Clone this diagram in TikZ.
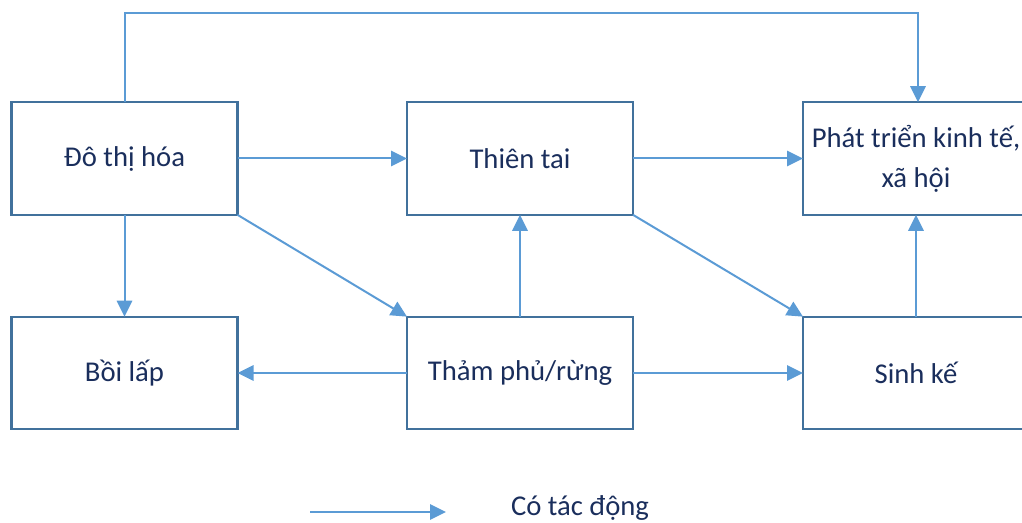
\documentclass[tikz,border=0pt]{standalone}
\usepackage{fontspec}
\setmainfont{Carlito}
\usetikzlibrary{arrows.meta}
\definecolor{boxline}{HTML}{41719C}
\definecolor{arrowblue}{HTML}{5B9BD5}
\definecolor{textnavy}{HTML}{1A2E5C}
\begin{document}
\begin{tikzpicture}[x=0.75pt,y=-0.75pt,
  box/.style={draw=boxline,line width=1.6pt,fill=white,inner sep=0pt,outer sep=0pt,
    minimum width=169.5pt,minimum height=84.5pt,align=center,text=textnavy,
    font=\fontsize{21.5}{30}\selectfont},
  link/.style={draw=arrowblue,line width=1.5pt,-{Triangle[length=12pt,width=11.5pt]}},
  label/.style={text=textnavy,font=\fontsize{21.5}{30}\selectfont,inner sep=0pt}]
\useasboundingbox (0,0) rectangle (1022,523);
\clip (0,0) rectangle (1022,523);

% boxes
\node[box] (urban)  at (124.5,158.5) {Đô thị hóa};
\node[box] (hazard) at (520,158.5) {Thiên tai};
\node[box] (devel)  at (916,158.5) {Phát triển kinh tế,\\xã hội};
\node[box] (silt)   at (124.5,373)   {Bồi lấp};
\node[box] (cover)  at (520,373)   {Thảm phủ/rừng};
\node[box] (liveli) at (916,373)   {Sinh kế};

% connectors
\draw[link] (urban.east) -- (hazard.west);
\draw[link] (hazard.east) -- (devel.west);
\draw[link] (urban.south) -- (silt.north);
\draw[link] (urban.south east) -- (cover.north west);
\draw[link] (cover.north) -- (hazard.south);
\draw[link] (hazard.south east) -- (liveli.north west);
\draw[link] (cover.west) -- (silt.east);
\draw[link] (cover.east) -- (liveli.west);
\draw[link] (liveli.north) -- (devel.south);
\coordinate (topbend) at (124.5,13);
\draw[link] (urban.north) -- (topbend) -| ([xshift=1.5pt]devel.north);

% legend
\coordinate (legA) at (310,512);
\coordinate (legB) at (446,512);
\draw[link] (legA) -- (legB);
\node[label,anchor=base] (legtext) at (580,516) {Có tác động};
\end{tikzpicture}
\end{document}
